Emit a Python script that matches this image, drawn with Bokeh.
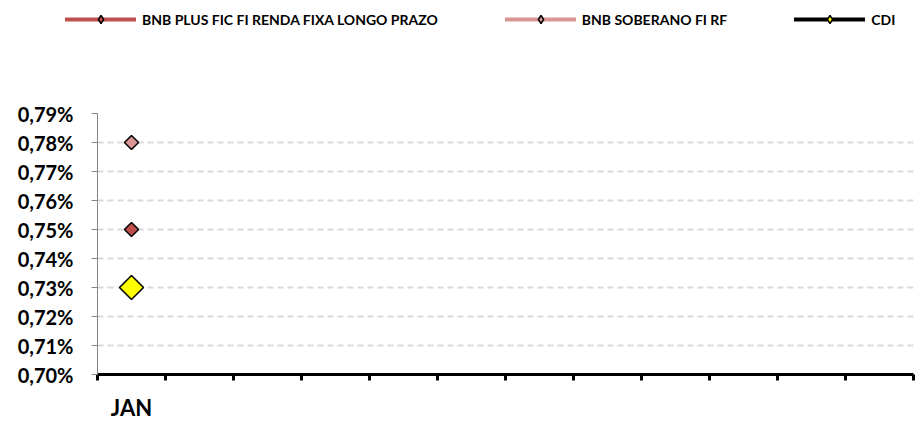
import numpy as np
from bokeh.plotting import figure
from bokeh.layouts import column
from bokeh.models import Range1d, FixedTicker, Legend, LegendItem
from bokeh.embed import file_html
from bokeh.resources import INLINE

# ---- data ----
months = ["JAN"]
bnb_plus = [0.75]          # BNB PLUS FIC FI RENDA FIXA LONGO PRAZO (% a.m.)
bnb_soberano = [0.78]      # BNB SOBERANO FI RF
cdi = [0.73]               # CDI
y_ticks = [0.70, 0.71, 0.72, 0.73, 0.74, 0.75, 0.76, 0.77, 0.78, 0.79]
y_tick_labels = ["0,70%", "0,71%", "0,72%", "0,73%", "0,74%", "0,75%", "0,76%", "0,77%", "0,78%", "0,79%"]
n_slots = 12
series_names = ["BNB PLUS FIC FI RENDA FIXA LONGO PRAZO", "BNB SOBERANO FI RF", "CDI"]

FONT = "Lato"
W = 915
LEG_H = 40
x = [i + 0.5 for i in range(len(months))]
series = [bnb_plus, bnb_soberano, cdi]

colors = ["#C0504D", "#D99694", "black"]
marker_fill = ["#C0504D", "#D99694", "#FFFF00"]
sizes = [10, 10, 17]

# ---- main chart ----
p = figure(width=W, height=423 - LEG_H, output_backend="svg", toolbar_location=None,
           x_range=Range1d(0, n_slots), y_range=Range1d(y_ticks[0], y_ticks[-1]),
           min_border_left=97, min_border_right=2, min_border_top=113 - LEG_H, min_border_bottom=46)
p.frame_align = False
p.outline_line_color = None
p.background_fill_color = "white"
p.border_fill_color = "white"

p.xgrid.grid_line_color = None
p.ygrid.grid_line_color = "#D9D9D9"
p.ygrid.grid_line_width = 2
p.ygrid.grid_line_dash = "6 4"
p.ygrid.ticker = FixedTicker(ticks=y_ticks)

p.yaxis.ticker = FixedTicker(ticks=y_ticks)
p.yaxis.major_label_overrides = {t: l for t, l in zip(y_ticks, y_tick_labels)}
p.yaxis.axis_line_color = "#868686"
p.yaxis.axis_line_width = 1
p.yaxis.major_tick_line_color = "#868686"
p.yaxis.major_tick_out = 6
p.yaxis.major_tick_in = 0
p.yaxis.minor_tick_line_color = None
p.yaxis.major_label_text_font = FONT
p.yaxis.major_label_text_font_style = "bold"
p.yaxis.major_label_text_font_size = "20px"
p.yaxis.major_label_text_color = "black"
p.yaxis.major_label_standoff = 18

p.xaxis.ticker = FixedTicker(ticks=x, minor_ticks=list(range(n_slots + 1)))
p.xaxis.major_label_overrides = {xx: m for xx, m in zip(x, months)}
p.xaxis.axis_line_color = "black"
p.xaxis.axis_line_width = 3
p.xaxis.major_tick_line_color = None
p.xaxis.minor_tick_line_color = "black"
p.xaxis.minor_tick_line_width = 3
p.xaxis.minor_tick_out = 6
p.xaxis.minor_tick_in = 0
p.xaxis.major_label_text_font = FONT
p.xaxis.major_label_text_font_style = "bold"
p.xaxis.major_label_text_font_size = "22px"
p.xaxis.major_label_text_color = "black"
p.xaxis.major_label_standoff = 13

for vals, c, mf, s in zip(series, colors, marker_fill, sizes):
    p.line(x, vals, line_color=c, line_width=4, line_cap="round")
    p.scatter(x, vals, marker="square", angle=np.pi / 4, size=s,
              fill_color=mf, line_color="black", line_width=1.5)

# ---- legend strip (legend-only proxies; their data lie outside this strip's ranges) ----
lg = figure(width=W, height=LEG_H, output_backend="svg", toolbar_location=None,
            x_axis_location=None, y_axis_location=None,
            x_range=Range1d(-2, -1), y_range=Range1d(-2, -1),
            min_border=0, min_border_left=0, min_border_right=0, min_border_top=0, min_border_bottom=0)
lg.frame_align = False
lg.grid.visible = False
lg.outline_line_color = None
lg.border_fill_color = "white"
lg.background_fill_color = "white"
items = []
for name, vals, c, mf in zip(series_names, series, colors, marker_fill):
    lr = lg.line(x, vals, line_color=c, line_width=4, line_cap="round")
    sr = lg.scatter(x, vals, marker="diamond", size=7,
                    fill_color=mf, line_color="black", line_width=1.5)
    items.append(LegendItem(label=name, renderers=[lr, sr]))

legend = Legend(items=items, orientation="horizontal", location=(65, LEG_H - 29),
                glyph_width=71, glyph_height=20, label_standoff=6, spacing=67,
                padding=0, margin=0, border_line_color=None, background_fill_alpha=0,
                label_text_font=FONT, label_text_font_style="bold",
                label_text_font_size="14px", label_text_color="black",
                label_height=20)
lg.add_layout(legend, "center")

layout = column(lg, p, spacing=0)
open("out.html", "w").write(file_html(layout, INLINE))
